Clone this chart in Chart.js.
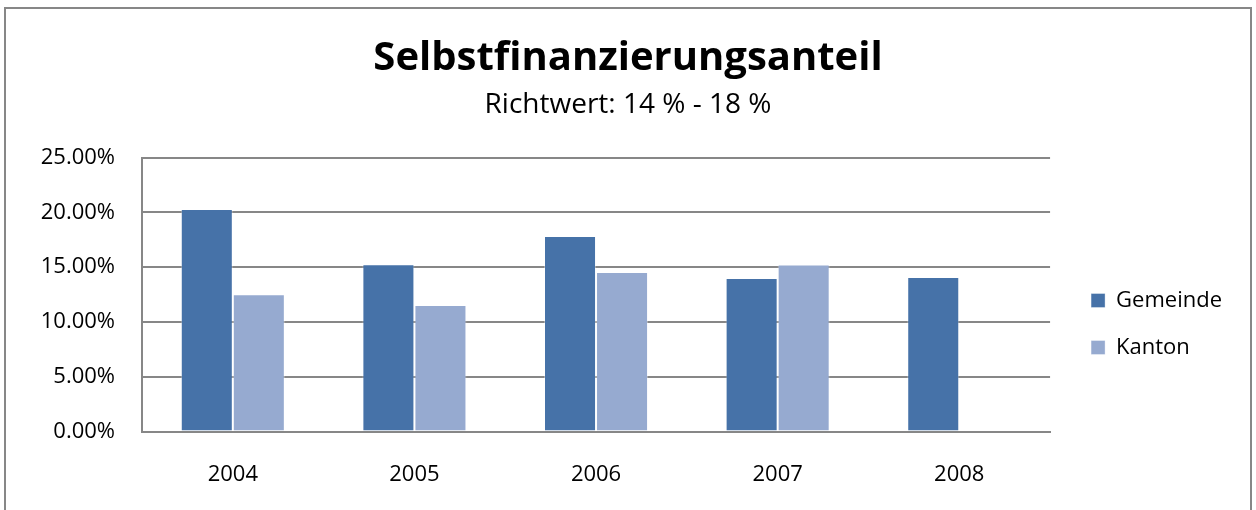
<!DOCTYPE html>
<html>
<head>
<meta charset="utf-8">
<script src="https://cdn.jsdelivr.net/npm/chart.js@4.4.1/dist/chart.umd.min.js"></script>
<style>
  html, body { margin: 0; padding: 0; background: #fff; }
  canvas { display: block; }
</style>
</head>
<body>
<canvas id="grafico" width="1256" height="510"></canvas>
<script>
// dados
var jahre = ["2004", "2005", "2006", "2007", "2008"];
var gemeinde = [20.32, 15.28, 17.85, 14.02, 14.11];
var kanton = [12.53, 11.55, 14.57, 15.25, null];
var yTicks = [0, 5, 10, 15, 20, 25];

var cinza = "#878787";

/* moldura em volta do grafico */
var moldura = {
  id: 'moldura',
  beforeDraw: function(chart) {
    var ctx = chart.ctx;
    ctx.save();
    ctx.strokeStyle = cinza;
    ctx.lineWidth = 2;
    ctx.strokeRect(5, 8, 1246, 520);
    ctx.restore();
  }
};

/* ajusta a posicao da legenda */
var legendaPos = {
  id: 'legendaPos',
  afterLayout: function(chart) {
    var lg = chart.legend;
    lg.left += 16;
    lg.right += 16;
    lg.top += 65;
    lg.bottom += 65;
  }
};

var ctx = document.getElementById("grafico").getContext("2d");

var dados = {
  labels: jahre,
  datasets: [{
    label: "Gemeinde",
    data: gemeinde,
    backgroundColor: "#4672a8",
    borderColor: "rgba(255,255,255,0.35)",
    borderWidth: 1
  }, {
    label: "Kanton",
    data: kanton,
    backgroundColor: "#96aad0",
    borderColor: "rgba(255,255,255,0.35)",
    borderWidth: 1
  }]
};

var grafico = new Chart(ctx, {
  type: 'bar',
  data: dados,
  plugins: [moldura, legendaPos],
  options: {
    responsive: false,
    animation: false,
    layout: { padding: { top: 0, left: 40, right: 40, bottom: -8 } },
    datasets: { bar: { categoryPercentage: 0.573, barPercentage: 1 } },
    plugins: {
      title: {
        display: true,
        text: "Selbstfinanzierungsanteil",
        color: "#000",
        font: { family: "Open Sans", size: 40, weight: "bold" },
        padding: { top: 35, bottom: 0 }
      },
      subtitle: {
        display: true,
        text: "Richtwert: 14 % - 18 %",
        color: "#000",
        font: { family: "Open Sans", size: 28 },
        padding: { top: 5, bottom: 36 }
      },
      legend: {
        position: 'right',
        align: 'center',
        labels: {
          color: "#000",
          font: { family: "Open Sans", size: 22 },
          boxWidth: 14,
          boxHeight: 14,
          padding: 25
        }
      },
      tooltip: { enabled: false }
    },
    scales: {
      x: {
        grid: { display: false, drawTicks: false },
        border: { display: true, color: cinza, width: 2 },
        ticks: {
          color: "#000",
          font: { family: "Open Sans", size: 22 },
          padding: 30
        }
      },
      y: {
        min: 0,
        max: 25,
        afterBuildTicks: function(scale) {
          scale.ticks = yTicks.map(function(v) { return { value: v }; });
        },
        afterFit: function(scale) {
          scale.width = 102;
        },
        grid: { color: cinza, lineWidth: 2, drawTicks: false },
        border: { display: true, color: cinza, width: 2 },
        ticks: {
          color: "#000",
          font: { family: "Open Sans", size: 22 },
          padding: 27,
          callback: function(v) { return v.toFixed(2) + "%"; }
        }
      }
    }
  }
});
</script>
</body>
</html>
